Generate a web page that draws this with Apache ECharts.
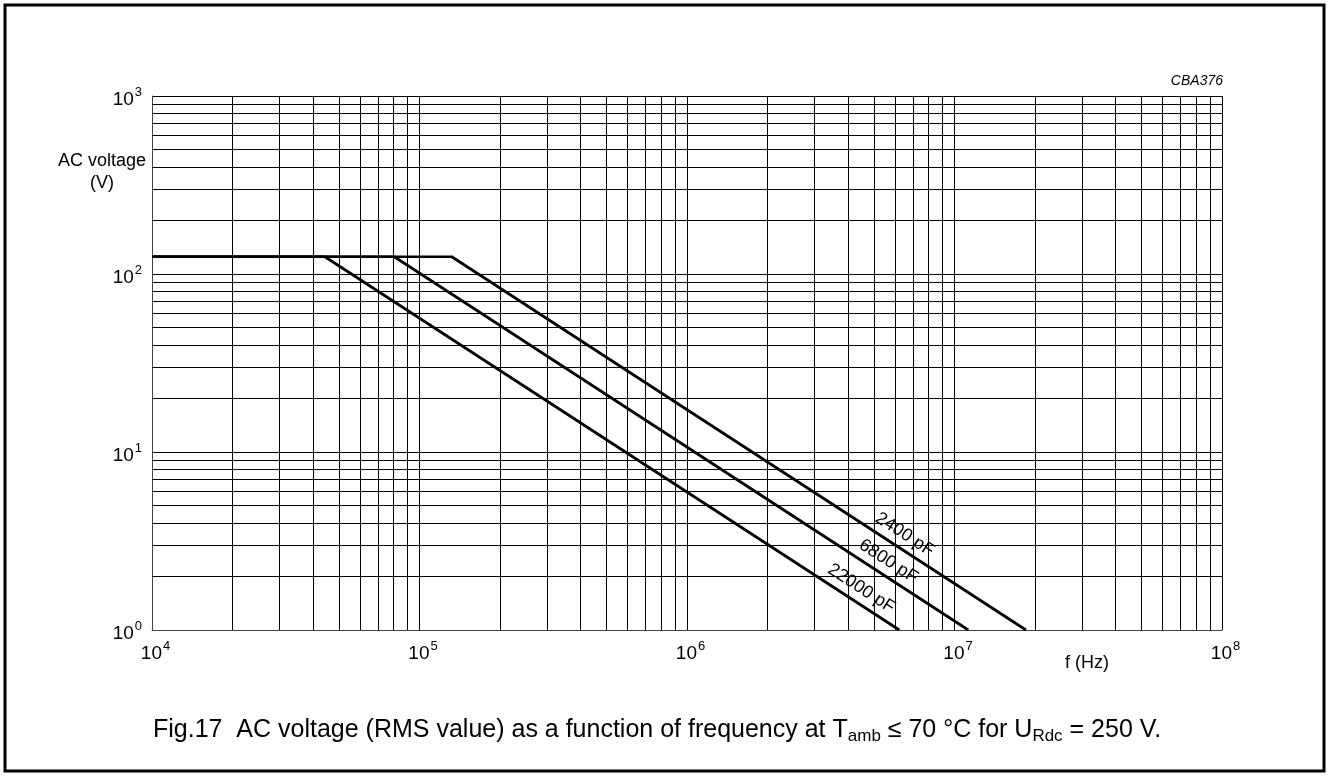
<!DOCTYPE html>
<html><head><meta charset="utf-8">
<script src="https://cdn.jsdelivr.net/npm/echarts@6/dist/echarts.min.js"></script>
<style>html,body{margin:0;padding:0;background:#fff}#c{width:1329px;height:776px}</style>
</head><body><div id="c"></div>
<script>
const capacitances = ['2400 pF', '6800 pF', '22000 pF'];
const freq2400 = [1e4, 1.32e5, 1.85e7];
const volt2400 = [125, 125, 1];
const freq6800 = [1e4, 8.05e4, 1.126e7];
const volt6800 = [125, 125, 1];
const freq22000 = [1e4, 4.43e4, 6.22e6];
const volt22000 = [125, 125, 1];
const labelFreqs = [6.1e6, 5.3e6, 4.2e6];
const xDecades = [1e4, 1e5, 1e6, 1e7];
const yDecades = [1, 10, 100];
const minorMultipliers = [2, 3, 4, 5, 6, 7, 8, 9];

const FONT = '"Liberation Sans", Arial, Helvetica, sans-serif';
const curves = [[freq2400, volt2400], [freq6800, volt6800], [freq22000, volt22000]];

const minorX = [];
xDecades.forEach(d => minorMultipliers.forEach(m => minorX.push({ xAxis: d * m })));
const minorY = [];
yDecades.forEach(d => minorMultipliers.forEach(m => minorY.push({ yAxis: d * m })));

const powLabel = v => '{b|10}{s|' + Math.round(Math.log10(v)) + '}';
const powRich = {
  b: { fontSize: 19, fontFamily: FONT, color: '#000', padding: [8, 0, 0, 7] },
  s: { fontSize: 13, fontFamily: FONT, color: '#000', padding: [0, 0, 7, 1] }
};

const series = curves.map((c, i) => ({
  name: capacitances[i],
  type: 'line',
  data: c[0].map((f, k) => [f, c[1][k]]),
  symbol: 'none',
  z: 5,
  lineStyle: { color: '#000', width: 2.7 }
}));
series.push({
  name: 'grid',
  type: 'line',
  data: [[1e4, 1]],
  symbol: 'none',
  z: 1,
  silent: true,
  lineStyle: { width: 0 },
  markLine: {
    silent: true,
    symbol: ['none', 'none'],
    label: { show: false },
    lineStyle: { color: '#000', width: 1, type: 'solid' },
    emphasis: { disabled: true },
    animation: false,
    data: minorX.concat(minorY)
  }
});

const option = {
  animation: false,
  backgroundColor: '#fff',
  grid: { left: 152, top: 96, right: 107, bottom: 146, containLabel: false },
  xAxis: {
    type: 'log', logBase: 10, min: 1e4, max: 1e8,
    axisLine: { show: true, lineStyle: { color: '#444', width: 1 } },
    axisTick: { show: false },
    splitLine: { show: true, lineStyle: { color: '#000', width: 1 } },
    axisLabel: { formatter: powLabel, rich: powRich, margin: 6, hideOverlap: false }
  },
  yAxis: {
    type: 'log', logBase: 10, min: 1, max: 1000,
    axisLine: { show: true, lineStyle: { color: '#444', width: 1 } },
    axisTick: { show: false },
    splitLine: { show: true, lineStyle: { color: '#000', width: 1 } },
    axisLabel: { formatter: powLabel, rich: powRich, margin: 10, hideOverlap: false }
  },
  series: series,
  graphic: [
    { type: 'rect', id: 'border', shape: { x: 5, y: 5, width: 1319, height: 766 },
      style: { fill: 'none', stroke: '#000', lineWidth: 3 }, z: 0 },
    { type: 'text', id: 'ylab', x: 102, y: 172,
      style: { text: 'AC voltage\n(V)', fontSize: 18, fontFamily: FONT, fill: '#000', align: 'center', verticalAlign: 'middle', lineHeight: 22 } },
    { type: 'text', id: 'xlab', x: 1087, y: 663,
      style: { text: 'f (Hz)', fontSize: 18, fontFamily: FONT, fill: '#000', align: 'center', verticalAlign: 'middle' } },
    { type: 'text', id: 'code', x: 1223, y: 81,
      style: { text: 'CBA376', fontSize: 14, fontStyle: 'italic', fontFamily: FONT, fill: '#000', align: 'right', verticalAlign: 'middle' } },
    { type: 'text', id: 'caption', x: 153, y: 730,
      style: {
        text: '{n|Fig.17  AC voltage (RMS value) as a function of frequency at T}{sub|amb}{n| \u2264 70 \u00B0C for U}{sub|Rdc}{n| = 250 V.}',
        fill: '#000', align: 'left', verticalAlign: 'middle',
        rich: {
          n: { fontSize: 25, fontFamily: FONT, color: '#000' },
          sub: { fontSize: 17, fontFamily: FONT, color: '#000', padding: [12, 0, 0, 0] }
        }
      } }
  ]
};

const chart = echarts.init(document.getElementById('c'), null, { renderer: 'canvas' });
chart.setOption(option);

const gfx = [];
curves.forEach((c, i) => {
  const f = c[0], v = c[1];
  const fl = labelFreqs[i];
  let k = 0;
  while (k < f.length - 2 && fl > f[k + 1]) k++;
  const t = (Math.log10(fl) - Math.log10(f[k])) / (Math.log10(f[k + 1]) - Math.log10(f[k]));
  const vl = Math.pow(10, Math.log10(v[k]) + t * (Math.log10(v[k + 1]) - Math.log10(v[k])));
  const p = chart.convertToPixel({ gridIndex: 0 }, [fl, vl]);
  const p0 = chart.convertToPixel({ gridIndex: 0 }, [f[k], v[k]]);
  const p1 = chart.convertToPixel({ gridIndex: 0 }, [f[k + 1], v[k + 1]]);
  const ang = Math.atan2(p1[1] - p0[1], p1[0] - p0[0]);
  const d = 14;
  gfx.push({
    type: 'text', id: 'cl' + i,
    x: p[0] + Math.sin(ang) * d, y: p[1] - Math.cos(ang) * d,
    rotation: -ang, z: 10,
    style: { text: capacitances[i], fontSize: 18, fontFamily: FONT, fill: '#000', align: 'center', verticalAlign: 'middle' }
  });
});
chart.setOption({ graphic: gfx });
</script>
</body></html>
